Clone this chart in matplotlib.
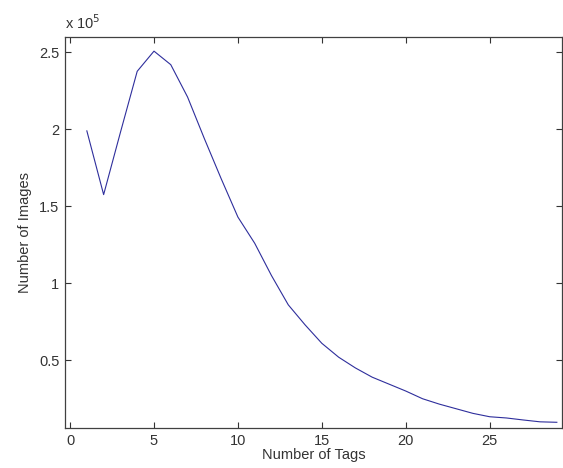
import numpy as np
import matplotlib.pyplot as plt
from matplotlib.ticker import FuncFormatter

plt.rcParams['font.family'] = ['Liberation Sans', 'DejaVu Sans']

# number of tags per image vs. how many images have that many tags
num_tags = list(range(1, 30))
num_images = [199000, 157600, 198000, 237700, 250800, 242000, 221000, 194000,
              168000, 143000, 126000, 105000, 86000, 73000, 61000, 52000,
              45000, 39000, 34500, 30000, 25000, 21500, 18500, 15500,
              13300, 12500, 11200, 10000, 9700]

fig = plt.figure(figsize=(5.63, 4.68), dpi=100)
ax = fig.add_axes([0.1155, 0.0855, 0.8825, 0.8355])

ax.plot(num_tags, num_images, color="#2e2e9c", lw=0.8)

ax.set_xlim(-0.3, 29.3)
ax.set_ylim(6000, 260000)
ax.set_xticks([0, 5, 10, 15, 20, 25])
ax.set_yticks([50000, 100000, 150000, 200000, 250000])
ax.yaxis.set_major_formatter(FuncFormatter(lambda v, p: "%g" % (v / 1e5)))

ax.tick_params(direction="in", length=4, width=0.8, top=True, right=True,
               labelsize=10.5, colors="#333333", pad=4)
for s in ax.spines.values():
    s.set_color("#404040")
    s.set_linewidth(0.9)

ax.set_xlabel("Number of Tags", fontsize=10.5, color="#333333", labelpad=0)
ax.set_ylabel("Number of Images", fontsize=10.5, color="#333333", labelpad=5)
ax.text(0.0, 1.012, "x 10$^{5}$", transform=ax.transAxes, fontsize=10.5,
        color="#333333", ha="left", va="bottom")

fig.savefig("out.png", dpi=100)
